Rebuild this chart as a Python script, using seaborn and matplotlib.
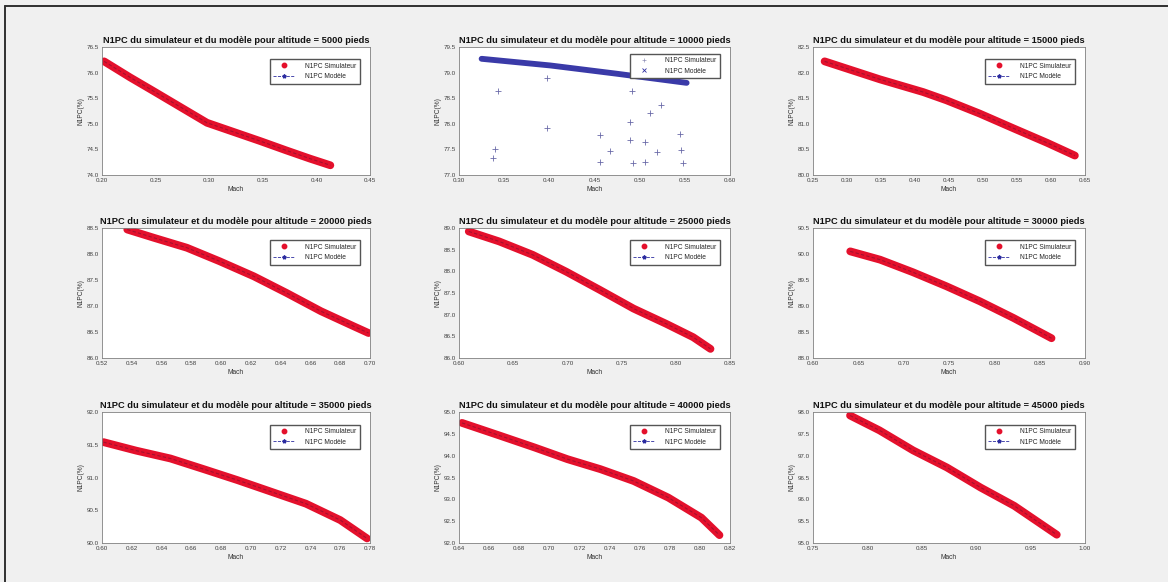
import matplotlib
matplotlib.use("Agg")
import matplotlib.pyplot as plt
from matplotlib.lines import Line2D
import numpy as np
import pandas as pd
import seaborn as sns

# Altitudes (pieds) of the nine test cases
altitudes = [5000, 10000, 15000, 20000, 25000, 30000, 35000, 40000, 45000]

# Mach / N1PC (%) samples for each altitude
mach_5000 = [0.202, 0.226, 0.248, 0.273, 0.298, 0.323, 0.348, 0.372, 0.394, 0.413]
n1_5000 = [76.22, 75.91, 75.64, 75.33, 75.02, 74.84, 74.66, 74.48, 74.32, 74.19]

mach_10000 = [0.325, 0.401, 0.474, 0.552]
n1_10000 = [79.27, 79.14, 78.98, 78.80]
# Scattered simulator readings at 10000 pieds
mach_10000_sim = [0.343, 0.340, 0.338, 0.397, 0.397, 0.456, 0.467, 0.456, 0.491, 0.489,
                  0.489, 0.506, 0.493, 0.506, 0.511, 0.524, 0.519, 0.545, 0.546, 0.548]
n1_10000_sim = [78.65, 77.51, 77.34, 78.90, 77.91, 77.78, 77.46, 77.25, 78.64, 78.04,
                77.68, 77.64, 77.23, 77.26, 78.21, 78.37, 77.44, 77.81, 77.48, 77.23]

mach_15000 = [0.267, 0.348, 0.412, 0.446, 0.495, 0.545, 0.594, 0.635]
n1_15000 = [82.22, 81.87, 81.62, 81.46, 81.20, 80.91, 80.63, 80.38]

mach_20000 = [0.537, 0.555, 0.577, 0.599, 0.622, 0.644, 0.667, 0.689, 0.699]
n1_20000 = [88.47, 88.31, 88.12, 87.86, 87.57, 87.25, 86.90, 86.61, 86.48]

mach_25000 = [0.609, 0.637, 0.668, 0.699, 0.730, 0.761, 0.791, 0.816, 0.832]
n1_25000 = [88.92, 88.69, 88.38, 87.99, 87.57, 87.14, 86.79, 86.48, 86.21]

mach_30000 = [0.641, 0.674, 0.710, 0.747, 0.784, 0.821, 0.863]
n1_30000 = [90.05, 89.89, 89.65, 89.38, 89.09, 88.77, 88.38]

mach_35000 = [0.601, 0.623, 0.646, 0.668, 0.691, 0.714, 0.737, 0.760, 0.778]
n1_35000 = [91.54, 91.41, 91.29, 91.13, 90.96, 90.78, 90.60, 90.35, 90.07]

mach_40000 = [0.642, 0.667, 0.690, 0.712, 0.734, 0.756, 0.779, 0.801, 0.813]
n1_40000 = [94.75, 94.46, 94.19, 93.92, 93.69, 93.42, 93.04, 92.58, 92.18]

mach_45000 = [0.784, 0.811, 0.842, 0.873, 0.904, 0.935, 0.974]
n1_45000 = [97.92, 97.58, 97.12, 96.73, 96.27, 95.85, 95.19]

series_mach = [mach_5000, mach_10000, mach_15000, mach_20000, mach_25000,
               mach_30000, mach_35000, mach_40000, mach_45000]
series_n1 = [n1_5000, n1_10000, n1_15000, n1_20000, n1_25000,
             n1_30000, n1_35000, n1_40000, n1_45000]

# Axis ranges and tick steps
x_ranges = [(0.20, 0.45, 0.05), (0.30, 0.60, 0.05), (0.25, 0.65, 0.05),
            (0.52, 0.70, 0.02), (0.60, 0.85, 0.05), (0.60, 0.90, 0.05),
            (0.60, 0.78, 0.02), (0.64, 0.82, 0.02), (0.75, 1.00, 0.05)]
y_ranges = [(74.0, 76.5, 0.5), (77.0, 79.5, 0.5), (80.0, 82.5, 0.5),
            (86.0, 88.5, 0.5), (86.0, 89.0, 0.5), (88.0, 90.5, 0.5),
            (90.0, 92.0, 0.5), (92.0, 95.0, 0.5), (95.0, 98.0, 0.5)]

sns.set_theme(style="white")
plt.rcParams["font.family"] = ["Liberation Sans", "DejaVu Sans"]

fig = plt.figure(figsize=(11.68, 5.82), dpi=100)
fig.patch.set_facecolor("#f0f0f0")

col_left = [0.0873, 0.3930, 0.6961]
col_width = [0.2295, 0.2320, 0.2329]
row_bottom = [0.6993, 0.3849, 0.0670]
row_height = [0.2199, 0.2234, 0.2251]

red = "#e4102c"
blue = "#2c2ca0"

for i in range(9):
    r, c = divmod(i, 3)
    ax = fig.add_axes([col_left[c], row_bottom[r], col_width[c], row_height[r]])
    ax.set_facecolor("white")
    df = pd.DataFrame({"Mach": series_mach[i], "N1PC": series_n1[i]})
    if i == 1:
        sns.lineplot(data=df, x="Mach", y="N1PC", ax=ax, color="#3a3aa8", lw=4.2,
                     sort=False, estimator=None)
        sim = pd.DataFrame({"Mach": mach_10000_sim, "N1PC": n1_10000_sim})
        sns.scatterplot(data=sim, x="Mach", y="N1PC", ax=ax, marker="+", s=14,
                        color="#6a6aa8", linewidth=0.6)
        handles = [Line2D([], [], ls="none", marker="+", color="#9090b8", ms=3, mew=0.5),
                   Line2D([], [], ls="none", marker="x", color=blue, ms=2.5, mew=0.6)]
        anchor = (0.975, 0.975)
    else:
        sns.lineplot(data=df, x="Mach", y="N1PC", ax=ax, color=red, lw=5.6,
                     sort=False, estimator=None, solid_capstyle="round")
        sns.lineplot(data=df, x="Mach", y="N1PC", ax=ax, color="#7a1030", lw=0.8,
                     ls=(0, (3, 2)), alpha=0.6, sort=False, estimator=None)
        handles = [Line2D([], [], ls="none", marker="o", color=red, ms=3.2),
                   Line2D([], [], ls="--", marker="*", color=blue, ms=2.8, lw=0.6)]
        anchor = (0.975, 0.93)
    ax.legend(handles, ["N1PC Simulateur", "N1PC Modèle"], loc="upper right",
              bbox_to_anchor=anchor,
              fontsize=4.8, frameon=True, fancybox=False, edgecolor="#555555",
              framealpha=1, borderpad=0.5, handlelength=3.2, labelspacing=0.55,
              handletextpad=1.6)

    x0, x1, xs = x_ranges[i]
    y0, y1, ys = y_ranges[i]
    ax.set_xlim(x0, x1)
    ax.set_ylim(y0, y1)
    ax.set_xticks(np.round(np.arange(x0, x1 + xs / 2, xs), 3))
    ax.set_yticks(np.round(np.arange(y0, y1 + ys / 2, ys), 2))
    ax.tick_params(axis="both", labelsize=4.5, direction="in", length=2,
                   width=0.5, colors="#404040", pad=2)
    for sp in ax.spines.values():
        sp.set_color("#808080")
        sp.set_linewidth(0.6)
    ax.set_xlabel("Mach", fontsize=4.8, labelpad=2, color="#303030")
    ax.set_ylabel("N1PC(%)", fontsize=4.8, labelpad=2, color="#303030")
    ax.set_title(f"N1PC du simulateur et du modèle pour altitude = {altitudes[i]} pieds",
                 fontsize=6.7, fontweight="bold", pad=3, color="#111111")

# Frame lines along the top and left edges of the figure
fig.add_artist(Line2D([0.0043, 1.0], [0.9897, 0.9897], transform=fig.transFigure,
                      color="#303030", lw=1.4))
fig.add_artist(Line2D([0.0043, 0.0043], [0.0, 0.9897], transform=fig.transFigure,
                      color="#303030", lw=1.4))

fig.savefig("out.png", dpi=100, facecolor=fig.get_facecolor())
